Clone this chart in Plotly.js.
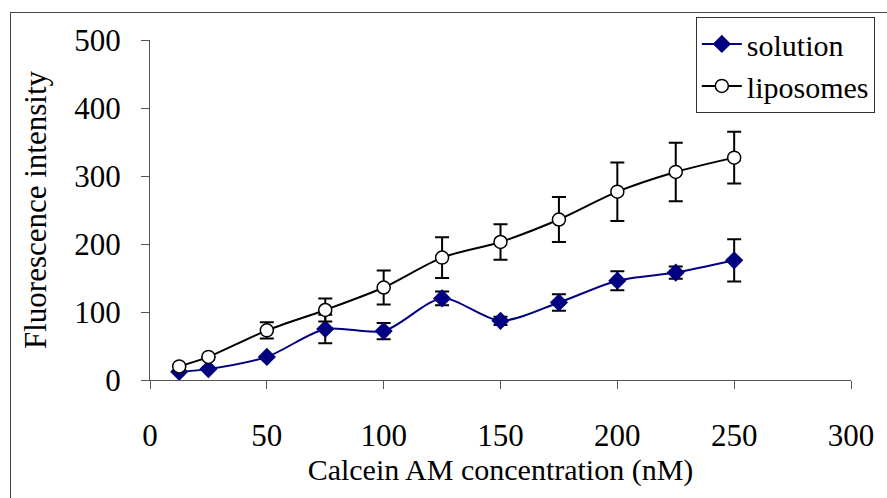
<!DOCTYPE html>
<html><head><meta charset="utf-8">
<script src="https://cdn.plot.ly/plotly-3.0.1.min.js"></script>
<style>
html,body{margin:0;padding:0;background:#fff;overflow:hidden;}
#frame{position:absolute;left:10px;top:12px;width:900px;height:600px;border:1.5px solid #444;box-sizing:border-box;}
#chart{position:absolute;left:0;top:0;width:887px;height:498px;}
#warm{position:absolute;left:0;top:0;font-family:'Liberation Serif';font-size:31px;color:rgba(255,255,255,0);pointer-events:none;}
#tick{position:absolute;left:0;top:0;font:10px monospace;color:rgba(255,255,255,0);}
</style></head>
<body>
<div id="warm">Fluorescence 0123456789 solution liposomes</div>
<div id="frame"></div>
<div id="chart"></div>
<div id="tick"></div>
<script>
const conc = [12.5, 25, 50, 75, 100, 125, 150, 175, 200, 225, 250];
const solution = [12, 16, 34, 75, 72, 120, 87, 114, 146, 158, 176];
const solutionErr = [0, 0, 0, 21, 12, 10, 6, 12, 14, 9, 31];
const liposomes = [20, 34, 73, 103, 136, 180, 203, 236, 277, 306, 327];
const liposomesErr = [0, 0, 12, 17, 25, 30, 26, 33, 43, 43, 38];
const xTicks = [0, 50, 100, 150, 200, 250, 300];
const yTicks = [0, 100, 200, 300, 400, 500];

const font = "Liberation Serif";

const traces = [
  {
    x: conc, y: solution, name: 'solution', mode: 'lines+markers', type: 'scatter',
    line: {color: '#000080', width: 2, shape: 'spline', smoothing: 0.8},
    marker: {symbol: 'diamond', size: 14, color: '#000080'},
    error_y: {type: 'data', array: solutionErr, visible: true, color: '#000', thickness: 2, width: 7}
  },
  {
    x: conc, y: liposomes, name: 'liposomes', mode: 'lines+markers', type: 'scatter',
    line: {color: '#000', width: 2, shape: 'spline', smoothing: 0.8},
    marker: {symbol: 'circle', size: 13, color: '#fff', line: {color: '#000', width: 1.5}},
    error_y: {type: 'data', array: liposomesErr, visible: true, color: '#000', thickness: 2, width: 7}
  }
];

const layout = {
  width: 887, height: 498,
  margin: {l: 150, r: 29, t: 40, b: 118},
  paper_bgcolor: 'rgba(0,0,0,0)', plot_bgcolor: 'rgba(0,0,0,0)',
  font: {family: font, color: '#000', size: 31},
  showlegend: true,
  legend: {
    x: 1.034, xanchor: 'right', y: 1.068, yanchor: 'top',
    bordercolor: '#333', borderwidth: 1, bgcolor: '#fff',
    font: {family: font, size: 30, color: '#000'},
    tracegroupgap: 0, itemwidth: 40
  },
  xaxis: {
    range: [0, 300], tickvals: xTicks, ticktext: xTicks.map(String),
    showgrid: false, zeroline: false, showline: true, linecolor: '#555', linewidth: 1,
    ticks: 'outside', ticklen: 8, tickcolor: '#555', ticklabelstandoff: 20,
    tickfont: {family: font, size: 31, color: '#000'},
    title: {text: 'Calcein AM concentration (nM)', font: {family: font, size: 30, color: '#000'}, standoff: 4}
  },
  yaxis: {
    range: [0, 500], tickvals: yTicks, ticktext: yTicks.map(String),
    showgrid: false, zeroline: false, showline: true, linecolor: '#555', linewidth: 1,
    ticks: 'outside', ticklen: 8, tickcolor: '#555', ticklabelstandoff: 14,
    tickfont: {family: font, size: 31, color: '#000'},
    title: {text: 'Fluorescence intensity', font: {family: font, size: 31, color: '#000'}, standoff: 18}
  }
};

function draw() {
  return Plotly.newPlot('chart', traces, layout, {displayModeBar: false, staticPlot: true}).then(() => {
    const n = document.querySelectorAll('#chart text').length;
    document.getElementById('tick').textContent = String(n);
  });
}
const ready = (document.fonts && document.fonts.load) ? document.fonts.load('31px "Liberation Serif"').catch(() => {}) : Promise.resolve();
draw();
ready.then(() => draw());
</script>
</body></html>
